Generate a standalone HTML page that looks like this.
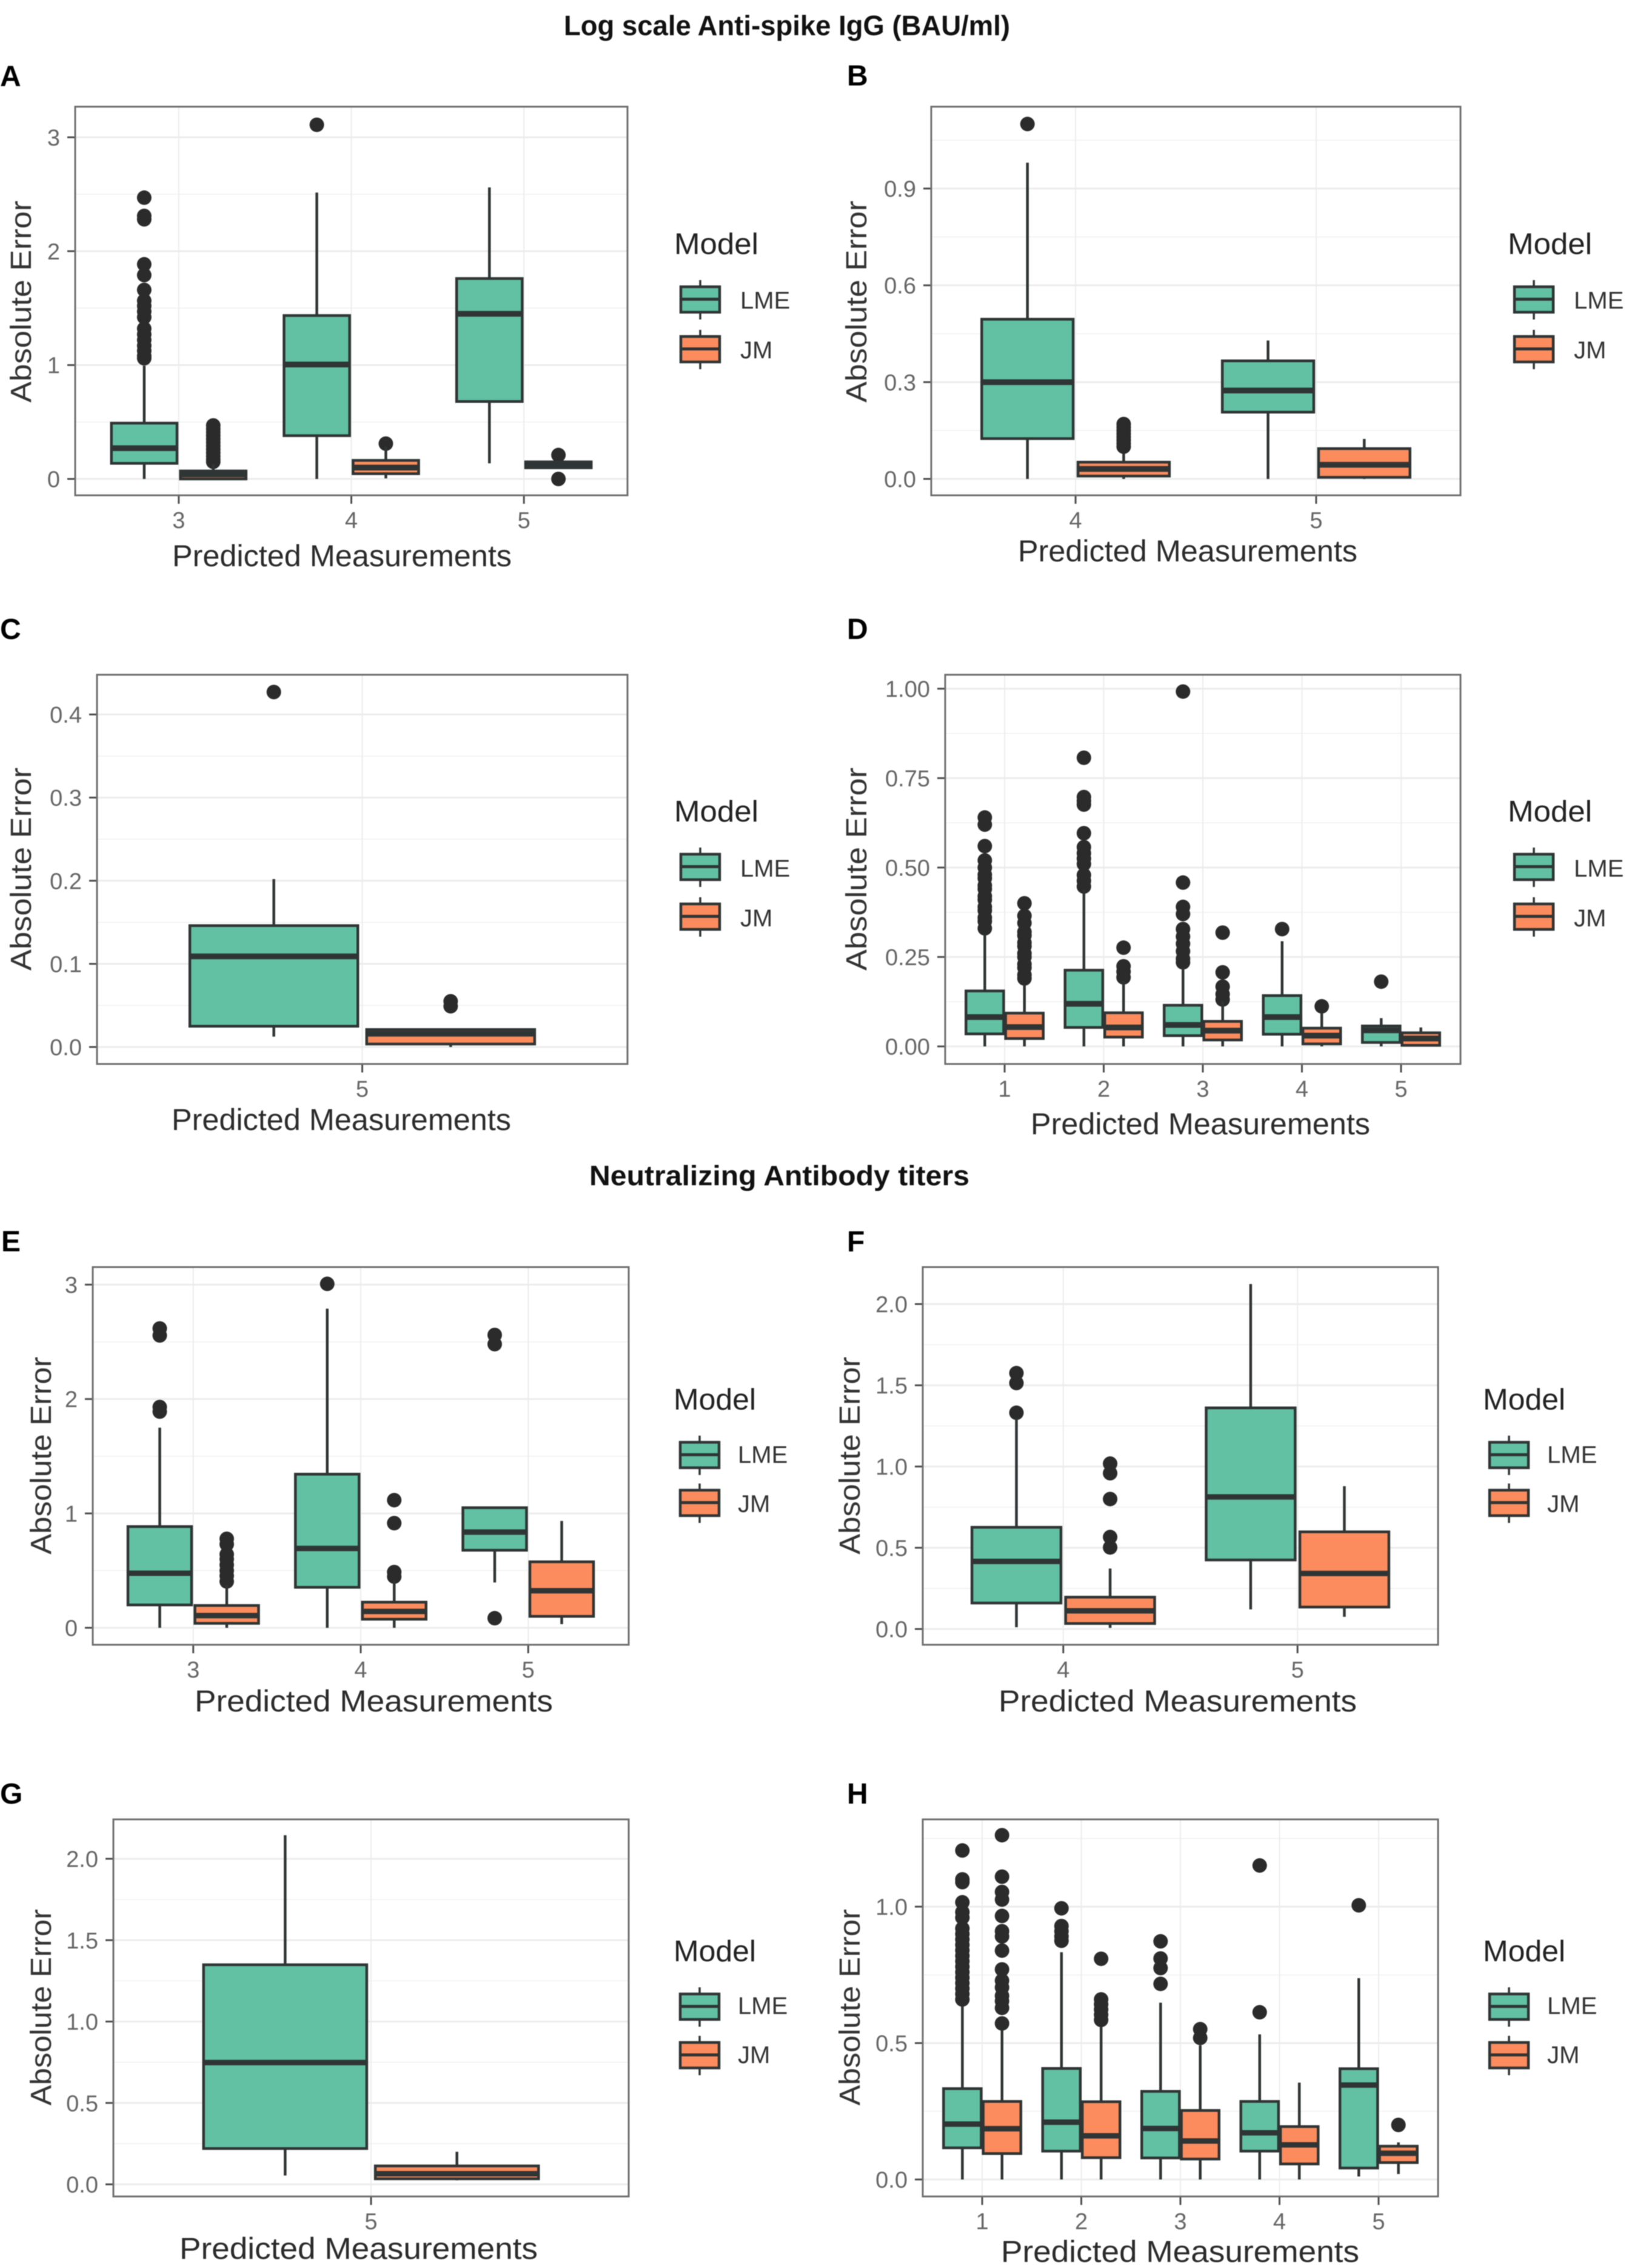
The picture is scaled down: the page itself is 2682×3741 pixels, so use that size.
<!DOCTYPE html>
<html lang="en">
<head>
<meta charset="utf-8">
<title>Absolute error of LME and JM models</title>
<style>
html,body{margin:0;padding:0;background:#fff;}
svg{display:block;filter:blur(0.7px);}
text{font-family:"Liberation Sans",sans-serif;}
.section{font-weight:700;font-size:46px;fill:#111;}
.letter{font-weight:700;font-size:48px;fill:#000;}
.xt{font-size:50px;fill:#2b2b2b;}
.yt{font-size:48px;fill:#333;}
.lt{font-size:49px;fill:#222;}
.ll{font-size:40px;fill:#333;}
.tick{font-size:38px;fill:#666;}
</style>
</head>
<body>
<svg id="figure" xmlns="http://www.w3.org/2000/svg" width="2682" height="3741" viewBox="0 0 2682 3741">
<rect x="0" y="0" width="2682" height="3741" fill="#ffffff"/>
<g id="plots"></g>

<text class="section" x="930" y="58" textLength="736" lengthAdjust="spacingAndGlyphs">Log scale Anti-spike IgG (BAU/ml)</text>
<text class="section" x="972" y="1955" textLength="627" lengthAdjust="spacingAndGlyphs">Neutralizing Antibody titers</text>

<text class="letter" x="0" y="142">A</text>
<text class="letter" x="1397" y="141">B</text>
<text class="letter" x="0" y="1054">C</text>
<text class="letter" x="1397" y="1054">D</text>
<text class="letter" x="2" y="2064">E</text>
<text class="letter" x="1397" y="2064">F</text>
<text class="letter" x="0" y="2975">G</text>
<text class="letter" x="1397" y="2975">H</text>

<!-- Panel A -->
<text class="xt" x="284" y="934" textLength="560" lengthAdjust="spacingAndGlyphs">Predicted Measurements</text>
<text class="yt" transform="translate(51,664) rotate(-90)" textLength="333" lengthAdjust="spacingAndGlyphs">Absolute Error</text>
<text class="lt" x="1112" y="419" textLength="139" lengthAdjust="spacingAndGlyphs">Model</text>
<text class="ll" x="1221" y="509">LME</text>
<text class="ll" x="1221" y="591">JM</text>

<!-- Panel B -->
<text class="xt" x="1679" y="926" textLength="560" lengthAdjust="spacingAndGlyphs">Predicted Measurements</text>
<text class="yt" transform="translate(1429,664) rotate(-90)" textLength="333" lengthAdjust="spacingAndGlyphs">Absolute Error</text>
<text class="lt" x="2487" y="419" textLength="139" lengthAdjust="spacingAndGlyphs">Model</text>
<text class="ll" x="2596" y="509">LME</text>
<text class="ll" x="2596" y="591">JM</text>

<!-- Panel C -->
<text class="xt" x="283" y="1864" textLength="560" lengthAdjust="spacingAndGlyphs">Predicted Measurements</text>
<text class="yt" transform="translate(51,1601) rotate(-90)" textLength="335" lengthAdjust="spacingAndGlyphs">Absolute Error</text>
<text class="lt" x="1112" y="1355" textLength="139" lengthAdjust="spacingAndGlyphs">Model</text>
<text class="ll" x="1221" y="1446">LME</text>
<text class="ll" x="1221" y="1528">JM</text>

<!-- Panel D -->
<text class="xt" x="1700" y="1871" textLength="560" lengthAdjust="spacingAndGlyphs">Predicted Measurements</text>
<text class="yt" transform="translate(1429,1601) rotate(-90)" textLength="335" lengthAdjust="spacingAndGlyphs">Absolute Error</text>
<text class="lt" x="2487" y="1355" textLength="139" lengthAdjust="spacingAndGlyphs">Model</text>
<text class="ll" x="2596" y="1446">LME</text>
<text class="ll" x="2596" y="1528">JM</text>

<!-- Panel E -->
<text class="xt" x="321" y="2823" textLength="591" lengthAdjust="spacingAndGlyphs">Predicted Measurements</text>
<text class="yt" transform="translate(84,2564) rotate(-90)" textLength="326" lengthAdjust="spacingAndGlyphs">Absolute Error</text>
<text class="lt" x="1111" y="2325" textLength="136" lengthAdjust="spacingAndGlyphs">Model</text>
<text class="ll" x="1217" y="2413">LME</text>
<text class="ll" x="1217" y="2494">JM</text>

<!-- Panel F -->
<text class="xt" x="1647" y="2823" textLength="591" lengthAdjust="spacingAndGlyphs">Predicted Measurements</text>
<text class="yt" transform="translate(1418,2564) rotate(-90)" textLength="326" lengthAdjust="spacingAndGlyphs">Absolute Error</text>
<text class="lt" x="2446" y="2325" textLength="136" lengthAdjust="spacingAndGlyphs">Model</text>
<text class="ll" x="2552" y="2413">LME</text>
<text class="ll" x="2552" y="2494">JM</text>

<!-- Panel G -->
<text class="xt" x="296" y="3726" textLength="591" lengthAdjust="spacingAndGlyphs">Predicted Measurements</text>
<text class="yt" transform="translate(84,3473) rotate(-90)" textLength="324" lengthAdjust="spacingAndGlyphs">Absolute Error</text>
<text class="lt" x="1111" y="3235" textLength="136" lengthAdjust="spacingAndGlyphs">Model</text>
<text class="ll" x="1217" y="3322">LME</text>
<text class="ll" x="1217" y="3403">JM</text>

<!-- Panel H -->
<text class="xt" x="1651" y="3731" textLength="591" lengthAdjust="spacingAndGlyphs">Predicted Measurements</text>
<text class="yt" transform="translate(1418,3473) rotate(-90)" textLength="324" lengthAdjust="spacingAndGlyphs">Absolute Error</text>
<text class="lt" x="2446" y="3235" textLength="136" lengthAdjust="spacingAndGlyphs">Model</text>
<text class="ll" x="2552" y="3322">LME</text>
<text class="ll" x="2552" y="3403">JM</text>
</svg>

<script>
/* ===== Panel A ===== */
const aCategories = ['3','4','5'];
const aYTicks = [0,1,2,3];
const aYTickLabels = ['0','1','2','3'];
const aLmeQ1 = [0.137,0.38,0.68];
const aLmeMedian = [0.27,1.005,1.45];
const aLmeQ3 = [0.49,1.435,1.76];
const aLmeLow = [0,0,0.137];
const aLmeHigh = [0.995,2.515,2.56];
const aLmeOutliers = [[2.47,2.31,2.28,1.885,1.79,1.66,1.565,1.52,1.47,1.42,1.32,1.27,1.22,1.17,1.125,1.08,1.06],[3.11],[]];
const aJmQ1 = [0.0,0.046,0.098];
const aJmMedian = [0.04,0.1,0.124];
const aJmQ3 = [0.07,0.163,0.15];
const aJmLow = [0,0.005,0.098];
const aJmHigh = [0.13,0.28,0.15];
const aJmOutliers = [[0.47,0.44,0.41,0.38,0.35,0.32,0.29,0.26,0.23,0.2,0.17,0.15],[0.31],[0.21,0]];

/* ===== Panel B ===== */
const bCategories = ['4','5'];
const bYTicks = [0,0.3,0.6,0.9];
const bYTickLabels = ['0.0','0.3','0.6','0.9'];
const bLmeQ1 = [0.125,0.207];
const bLmeMedian = [0.3,0.274];
const bLmeQ3 = [0.495,0.366];
const bLmeLow = [0,0];
const bLmeHigh = [0.98,0.429];
const bLmeOutliers = [[1.1],[]];
const bJmQ1 = [0.009,0.005];
const bJmMedian = [0.031,0.044];
const bJmQ3 = [0.052,0.094];
const bJmLow = [0,0];
const bJmHigh = [0.078,0.124];
const bJmOutliers = [[0.17,0.16,0.15,0.14,0.13,0.12,0.11,0.1],[]];

/* ===== Panel C ===== */
const cCategories = ['5'];
const cYTicks = [0,0.1,0.2,0.3,0.4];
const cYTickLabels = ['0.0','0.1','0.2','0.3','0.4'];
const cLmeQ1 = [0.025];
const cLmeMedian = [0.109];
const cLmeQ3 = [0.146];
const cLmeLow = [0.0125];
const cLmeHigh = [0.202];
const cLmeOutliers = [[0.427]];
const cJmQ1 = [0.0036];
const cJmMedian = [0.016];
const cJmQ3 = [0.021];
const cJmLow = [0];
const cJmHigh = [0.021];
const cJmOutliers = [[0.055,0.049]];

/* ===== Panel D ===== */
const dCategories = ['1','2','3','4','5'];
const dYTicks = [0,0.25,0.5,0.75,1];
const dYTickLabels = ['0.00','0.25','0.50','0.75','1.00'];
const dLmeQ1 = [0.035,0.053,0.03,0.034,0.011];
const dLmeMedian = [0.082,0.119,0.06,0.082,0.045];
const dLmeQ3 = [0.155,0.213,0.115,0.142,0.057];
const dLmeLow = [0,0,0,0,0];
const dLmeHigh = [0.313,0.437,0.22,0.294,0.079];
const dLmeOutliers = [
  [0.33,0.35,0.36,0.38,0.39,0.41,0.42,0.44,0.45,0.47,0.48,0.5,0.52,0.56,0.62,0.64],
  [0.807,0.697,0.686,0.676,0.596,0.557,0.54,0.525,0.51,0.479,0.463,0.447],
  [0.992,0.458,0.39,0.37,0.328,0.307,0.287,0.266,0.245,0.235],
  [0.328],
  [0.181]
];
const dJmQ1 = [0.022,0.026,0.018,0.007,0.003];
const dJmMedian = [0.054,0.053,0.044,0.03,0.022];
const dJmQ3 = [0.093,0.094,0.07,0.051,0.038];
const dJmLow = [0,0,0,0,0];
const dJmHigh = [0.172,0.183,0.126,0.094,0.053];
const dJmOutliers = [
  [0.19,0.2,0.22,0.23,0.25,0.26,0.28,0.29,0.31,0.32,0.345,0.365,0.4],
  [0.276,0.224,0.209,0.193],
  [0.318,0.207,0.167,0.146,0.131],
  [0.112],
  []
];

/* ===== Panel E ===== */
const eCategories = ['3','4','5'];
const eYTicks = [0,1,2,3];
const eYTickLabels = ['0','1','2','3'];
const eLmeQ1 = [0.2,0.354,0.678];
const eLmeMedian = [0.477,0.694,0.837];
const eLmeQ3 = [0.885,1.343,1.05];
const eLmeLow = [0,0,0.396];
const eLmeHigh = [1.75,2.79,1.05];
const eLmeOutliers = [[2.617,2.556,1.93,1.89],[3.007],[2.56,2.48,0.084]];
const eJmQ1 = [0.039,0.075,0.1];
const eJmMedian = [0.107,0.143,0.324];
const eJmQ3 = [0.195,0.224,0.577];
const eJmLow = [0,0,0.032];
const eJmHigh = [0.373,0.415,0.934];
const eJmOutliers = [[0.778,0.73,0.642,0.6,0.55,0.5,0.454,0.405],[1.116,0.915,0.487,0.448],[]];

/* ===== Panel F ===== */
const fCategories = ['4','5'];
const fYTicks = [0,0.5,1,1.5,2];
const fYTickLabels = ['0.0','0.5','1.0','1.5','2.0'];
const fLmeQ1 = [0.16,0.425];
const fLmeMedian = [0.416,0.813];
const fLmeQ3 = [0.626,1.361];
const fLmeLow = [0.011,0.121];
const fLmeHigh = [1.297,2.123];
const fLmeOutliers = [[1.575,1.514,1.331],[]];
const fJmQ1 = [0.034,0.135];
const fJmMedian = [0.112,0.342];
const fJmQ3 = [0.196,0.598];
const fJmLow = [0.007,0.075];
const fJmHigh = [0.372,0.879];
const fJmOutliers = [[1.018,0.959,0.8,0.566,0.502],[]];

/* ===== Panel G ===== */
const gCategories = ['5'];
const gYTicks = [0,0.5,1,1.5,2];
const gYTickLabels = ['0.0','0.5','1.0','1.5','2.0'];
const gLmeQ1 = [0.22];
const gLmeMedian = [0.748];
const gLmeQ3 = [1.349];
const gLmeLow = [0.054];
const gLmeHigh = [2.145];
const gLmeOutliers = [[]];
const gJmQ1 = [0.034];
const gJmMedian = [0.065];
const gJmQ3 = [0.113];
const gJmLow = [0.025];
const gJmHigh = [0.2];
const gJmOutliers = [[]];

/* ===== Panel H ===== */
const hCategories = ['1','2','3','4','5'];
const hYTicks = [0,0.5,1];
const hYTickLabels = ['0.0','0.5','1.0'];
const hLmeQ1 = [0.116,0.104,0.079,0.104,0.042];
const hLmeMedian = [0.203,0.21,0.187,0.171,0.346];
const hLmeQ3 = [0.333,0.407,0.323,0.286,0.406];
const hLmeLow = [0,0,0,0,0.011];
const hLmeHigh = [0.635,0.833,0.648,0.532,0.738];
const hLmeOutliers = [
  [1.206,1.1,1.09,1.016,0.98,0.96,0.92,0.9,0.88,0.86,0.84,0.82,0.8,0.78,0.76,0.74,0.72,0.7,0.68,0.66],
  [0.994,0.929,0.91,0.891,0.875],
  [0.873,0.81,0.775,0.717],
  [1.151,0.613],
  [1.005]
];
const hJmQ1 = [0.095,0.08,0.075,0.057,0.062];
const hJmMedian = [0.186,0.16,0.141,0.127,0.096];
const hJmQ3 = [0.286,0.285,0.253,0.194,0.122];
const hJmLow = [0,0,0,0,0.02];
const hJmHigh = [0.548,0.56,0.492,0.355,0.136];
const hJmOutliers = [
  [1.262,1.11,1.054,1.026,0.966,0.91,0.891,0.839,0.77,0.729,0.704,0.673,0.654,0.629,0.572],
  [0.809,0.66,0.642,0.623,0.604,0.585],
  [0.551,0.519],
  [],
  [0.2]
];

const SVG_NS = 'http://www.w3.org/2000/svg';
const LME_FILL = '#62c1a3';
const JM_FILL = '#fc8c5e';
const INK = '#2f3534';

function shape(parent, tag, attrs) {
  const node = document.createElementNS(SVG_NS, tag);
  for (const key in attrs) node.setAttribute(key, attrs[key]);
  parent.appendChild(node);
  return node;
}

function series(q1, median, q3, low, high, outliers) {
  return { q1, median, q3, low, high, outliers };
}

const panelLayouts = [
  { id:'a', left:124, right:1035, top:176, bottom:817, zeroY:790, tickSpanPx:563.5, tickSpan:3, medianWidth:9.5,
    categories:aCategories, yTicks:aYTicks, yLabels:aYTickLabels,
    lme:series(aLmeQ1,aLmeMedian,aLmeQ3,aLmeLow,aLmeHigh,aLmeOutliers),
    jm:series(aJmQ1,aJmMedian,aJmQ3,aJmLow,aJmHigh,aJmOutliers),
    legendX:1123, legendY:419, legendStep:82 },
  { id:'b', left:1536, right:2409, top:176, bottom:817, zeroY:790, tickSpanPx:479, tickSpan:0.9, medianWidth:9.5,
    categories:bCategories, yTicks:bYTicks, yLabels:bYTickLabels,
    lme:series(bLmeQ1,bLmeMedian,bLmeQ3,bLmeLow,bLmeHigh,bLmeOutliers),
    jm:series(bJmQ1,bJmMedian,bJmQ3,bJmLow,bJmHigh,bJmOutliers),
    legendX:2498, legendY:419, legendStep:82 },
  { id:'c', left:160, right:1035, top:1113, bottom:1755, zeroY:1727, tickSpanPx:548.5, tickSpan:0.4, medianWidth:9.5,
    categories:cCategories, yTicks:cYTicks, yLabels:cYTickLabels,
    lme:series(cLmeQ1,cLmeMedian,cLmeQ3,cLmeLow,cLmeHigh,cLmeOutliers),
    jm:series(cJmQ1,cJmMedian,cJmQ3,cJmLow,cJmHigh,cJmOutliers),
    legendX:1123, legendY:1355, legendStep:82 },
  { id:'d', left:1559, right:2409, top:1113, bottom:1755, zeroY:1726, tickSpanPx:590, tickSpan:1, medianWidth:9.5,
    categories:dCategories, yTicks:dYTicks, yLabels:dYTickLabels,
    lme:series(dLmeQ1,dLmeMedian,dLmeQ3,dLmeLow,dLmeHigh,dLmeOutliers),
    jm:series(dJmQ1,dJmMedian,dJmQ3,dJmLow,dJmHigh,dJmOutliers),
    legendX:2498, legendY:1355, legendStep:82 },
  { id:'e', left:153, right:1037, top:2090, bottom:2713, zeroY:2685, tickSpanPx:566, tickSpan:3, medianWidth:9,
    categories:eCategories, yTicks:eYTicks, yLabels:eYTickLabels,
    lme:series(eLmeQ1,eLmeMedian,eLmeQ3,eLmeLow,eLmeHigh,eLmeOutliers),
    jm:series(eJmQ1,eJmMedian,eJmQ3,eJmLow,eJmHigh,eJmOutliers),
    legendX:1122, legendY:2325, legendStep:79 },
  { id:'f', left:1522, right:2372, top:2090, bottom:2713, zeroY:2687, tickSpanPx:536, tickSpan:2, medianWidth:9,
    categories:fCategories, yTicks:fYTicks, yLabels:fYTickLabels,
    lme:series(fLmeQ1,fLmeMedian,fLmeQ3,fLmeLow,fLmeHigh,fLmeOutliers),
    jm:series(fJmQ1,fJmMedian,fJmQ3,fJmLow,fJmHigh,fJmOutliers),
    legendX:2457, legendY:2325, legendStep:79 },
  { id:'g', left:187, right:1037, top:3001, bottom:3623, zeroY:3603, tickSpanPx:537, tickSpan:2, medianWidth:9,
    categories:gCategories, yTicks:gYTicks, yLabels:gYTickLabels,
    lme:series(gLmeQ1,gLmeMedian,gLmeQ3,gLmeLow,gLmeHigh,gLmeOutliers),
    jm:series(gJmQ1,gJmMedian,gJmQ3,gJmLow,gJmHigh,gJmOutliers),
    legendX:1122, legendY:3235, legendStep:80 },
  { id:'h', left:1522, right:2372, top:3001, bottom:3623, zeroY:3595, tickSpanPx:450, tickSpan:1, medianWidth:9,
    categories:hCategories, yTicks:hYTicks, yLabels:hYTickLabels,
    lme:series(hLmeQ1,hLmeMedian,hLmeQ3,hLmeLow,hLmeHigh,hLmeOutliers),
    jm:series(hJmQ1,hJmMedian,hJmQ3,hJmLow,hJmHigh,hJmOutliers),
    legendX:2457, legendY:3235, legendStep:80 }
];

function drawBox(group, panel, stats, index, cx, halfWidth, fill, model, yScale) {
  const tag = 'panel-' + panel.id + '-' + model + '-' + panel.categories[index];
  const box = shape(group, 'g', {});
  
  

  for (const value of stats.outliers[index]) {
    const dot = shape(box, 'circle', { cx:cx, cy:yScale(value), r:12, fill:'#2b2b2b' });
    
    
  }

  const upper = shape(box, 'line', { x1:cx, x2:cx, y1:yScale(stats.q3[index]), y2:yScale(stats.high[index]), stroke:INK, 'stroke-width':4.5 });
  
  

  const lower = shape(box, 'line', { x1:cx, x2:cx, y1:yScale(stats.q1[index]), y2:yScale(stats.low[index]), stroke:INK, 'stroke-width':4.5 });
  
  

  const yTop = yScale(stats.q3[index]);
  const yBottom = yScale(stats.q1[index]);
  const body = shape(box, 'rect', { x:cx - halfWidth, y:Math.min(yTop, yBottom), width:halfWidth * 2, height:Math.abs(yBottom - yTop), fill:fill, stroke:INK, 'stroke-width':4.5 });
  
  

  const mid = shape(box, 'line', { x1:cx - halfWidth, x2:cx + halfWidth, y1:yScale(stats.median[index]), y2:yScale(stats.median[index]), stroke:INK, 'stroke-width':panel.medianWidth });
  
  
}

function drawLegendKey(group, panel, offset, fill, model) {
  const x0 = panel.legendX, x1 = x0 + 64, cx = x0 + 32;
  const base = panel.legendY + offset;
  const key = shape(group, 'g', {});
  
  
  shape(key, 'line', { x1:cx, x2:cx, y1:base + 43, y2:base + 108, stroke:INK, 'stroke-width':3.5 });
  shape(key, 'rect', { x:x0, y:base + 54, width:x1 - x0, height:42, fill:fill, stroke:INK, 'stroke-width':4.5 });
  shape(key, 'line', { x1:x0, x2:x1, y1:base + 74.5, y2:base + 74.5, stroke:INK, 'stroke-width':5 });
}

function drawPanel(root, panel) {
  const group = shape(root, 'g', {});
  
  

  const unitPx = panel.tickSpanPx / panel.tickSpan;
  const yScale = function (v) { return panel.zeroY - v * unitPx; };
  const n = panel.categories.length;
  const bandPx = (panel.right - panel.left) / (n - 1 + 1.2);
  const xScale = function (i) { return panel.left + (0.6 + i) * bandPx; };

  const bg = shape(group, 'rect', { x:panel.left, y:panel.top, width:panel.right - panel.left, height:panel.bottom - panel.top, fill:'#ffffff' });
  
  

  const step = panel.yTicks[1] - panel.yTicks[0];
  for (let k = -1; k < panel.yTicks.length; k++) {
    const base = k < 0 ? panel.yTicks[0] - step : panel.yTicks[k];
    const my = yScale(base + step / 2);
    if (my > panel.top + 2 && my < panel.bottom - 2) {
      const minor = shape(group, 'line', { x1:panel.left, x2:panel.right, y1:my, y2:my, stroke:'#f1f1f1', 'stroke-width':1.5 });
      
      
    }
  }

  panel.yTicks.forEach(function (tickValue, k) {
    const ty = yScale(tickValue);
    const grid = shape(group, 'line', { x1:panel.left, x2:panel.right, y1:ty, y2:ty, stroke:'#ececec', 'stroke-width':3 });
    
    

    const mark = shape(group, 'line', { x1:panel.left - 13, x2:panel.left, y1:ty, y2:ty, stroke:'#4d4d4d', 'stroke-width':3 });
    
    

    const label = shape(group, 'text', { x:panel.left - 25, y:ty + 13.5, 'text-anchor':'end', class:'tick' });
    
    
    label.textContent = panel.yLabels[k];
  });

  panel.categories.forEach(function (category, i) {
    const tx = xScale(i);
    const grid = shape(group, 'line', { x1:tx, x2:tx, y1:panel.top, y2:panel.bottom, stroke:'#ececec', 'stroke-width':2 });
    
    

    const mark = shape(group, 'line', { x1:tx, x2:tx, y1:panel.bottom, y2:panel.bottom + 14, stroke:'#4d4d4d', 'stroke-width':3 });
    
    

    const label = shape(group, 'text', { x:tx, y:panel.bottom + 54, 'text-anchor':'middle', class:'tick' });
    
    
    label.textContent = category;
  });

  panel.categories.forEach(function (category, i) {
    const cx = xScale(i);
    const halfWidth = bandPx * 0.19;
    drawBox(group, panel, panel.lme, i, cx - bandPx * 0.2, halfWidth, LME_FILL, 'lme', yScale);
    drawBox(group, panel, panel.jm, i, cx + bandPx * 0.2, halfWidth, JM_FILL, 'jm', yScale);
  });

  const frame = shape(group, 'rect', { x:panel.left, y:panel.top, width:panel.right - panel.left, height:panel.bottom - panel.top, fill:'none', stroke:'#6f6f6f', 'stroke-width':3 });
  
  

  drawLegendKey(group, panel, 0, LME_FILL, 'lme');
  drawLegendKey(group, panel, panel.legendStep, JM_FILL, 'jm');
}

const plotsRoot = document.getElementById('plots');
panelLayouts.forEach(function (panel) { drawPanel(plotsRoot, panel); });
</script>
</body>
</html>
